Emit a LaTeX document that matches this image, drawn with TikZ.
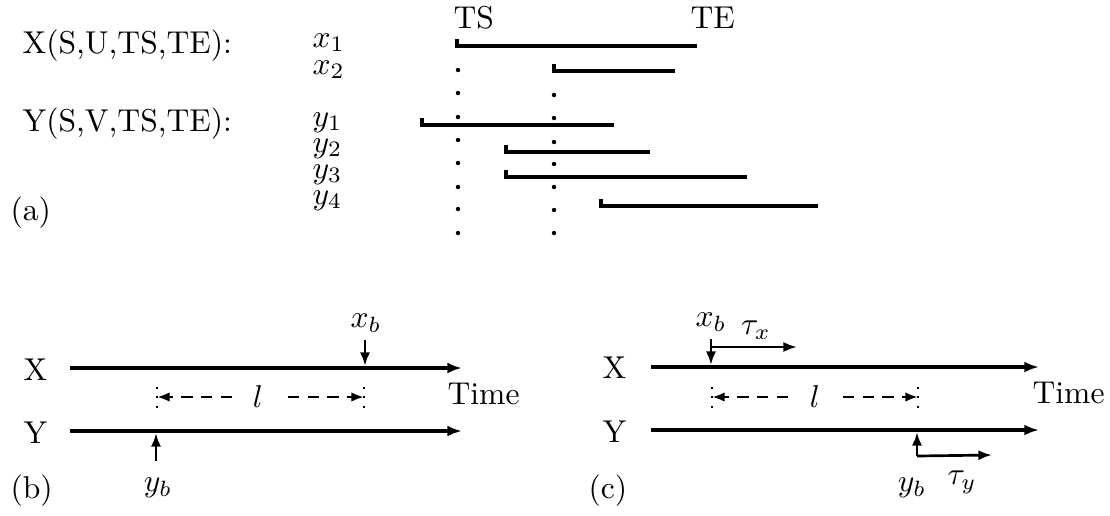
\documentclass[tikz,border=0pt]{standalone}
\usetikzlibrary{arrows.meta}
\begin{document}
\begin{tikzpicture}[x=0.3165pt,y=-0.3165pt,
  lbl/.style={inner sep=0pt,anchor=base west},
  ctr/.style={inner sep=0pt},
  seg/.style={line width=1.05pt},
  axis/.style={line width=1.05pt,-{Latex[length=4.6pt,width=3.4pt]}},
  ptr/.style={line width=0.85pt,-{Latex[length=4.3pt,width=3.2pt]}},
  dl/.style={line width=0.9pt,dash pattern=on 3.6pt off 2.6pt,-{Latex[length=4pt,width=3pt]}},
  tk/.style={line width=0.6pt,dash pattern=on 0.6pt off 2.4pt},
  dotc/.style={fill,circle,inner sep=0pt,minimum size=1.4pt}
]
\useasboundingbox (0,0) rectangle (1110,515);

% ---------------- panel (a)
\node[lbl] (TS) at (453,28) {TS};
\node[lbl] (TE) at (690,28) {TE};
\node[lbl] (Xrel) at (22,53) {X(S,U,TS,TE):};
\node[lbl] (Yrel) at (22,131) {Y(S,V,TS,TE):};
\node[lbl] (x1) at (312,47) {$x_1$};
\node[lbl] (x2) at (312,74) {$x_2$};
\node[lbl] (y1) at (312,126) {$y_1$};
\node[lbl] (y2) at (312,152) {$y_2$};
\node[lbl] (y3) at (312,178) {$y_3$};
\node[lbl] (y4) at (312,204) {$y_4$};
\node[lbl] (pa) at (10,220) {(a)};

\draw[seg] (457,39) -- (457,46) -- (697,46);
\draw[seg] (554,64) -- (554,71) -- (675,71);
\draw[seg] (422,118) -- (422,125) -- (614,125);
\draw[seg] (506,145) -- (506,152) -- (650,152);
\draw[seg] (506,170) -- (506,177) -- (747,177);
\draw[seg] (601,199) -- (601,206) -- (818,206);

\foreach \yy in {70,93,117,140,163,187,209,233}
  \node[dotc] at (458,\yy) {};
\foreach \yy in {95,118,142,164,187,210,233}
  \node[dotc] at (554,\yy) {};

% ---------------- panel (b)
\node[lbl] (bX) at (23,380) {X};
\node[lbl] (bY) at (23,443) {Y};
\node[lbl] (bTime) at (447,404) {Time};
\node[lbl] (pb) at (10,498) {(b)};
\coordinate (bxs) at (70,368);
\coordinate (bxe) at (462,368);
\coordinate (bys) at (70,431);
\coordinate (bye) at (462,431);
\draw[axis] (bxs) -- (bxe);
\draw[axis] (bys) -- (bye);

\node[ctr] (bxb) at (366,323) {$x_b$};
\coordinate (bxa) at (365,340);
\coordinate (bxt) at (365,366);
\draw[ptr] (bxa) -- (bxt);

\node[ctr] (byb) at (158,488) {$y_b$};
\coordinate (bya) at (156,461);
\coordinate (byt) at (156,433);
\draw[ptr] (bya) -- (byt);

\coordinate (btl1) at (157,387); \coordinate (btl2) at (157,411);
\coordinate (btr1) at (364,387); \coordinate (btr2) at (364,411);
\draw[tk] (btl1) -- (btl2);
\draw[tk] (btr1) -- (btr2);
\node[ctr] (bl) at (258,397) {$l$};
\coordinate (blL) at (232,397);
\coordinate (blR) at (288,397);
\coordinate (blT) at (157,397);
\coordinate (brT) at (364,397);
\draw[dl] (blL) -- (blT);
\draw[dl] (blR) -- (brT);

% ---------------- panel (c)
\node[lbl] (cX) at (602,378) {X};
\node[lbl] (cY) at (602,442) {Y};
\node[lbl] (cTime) at (1032,403) {Time};
\node[lbl] (pc) at (588,498) {(c)};
\coordinate (cxs) at (651,367);
\coordinate (cxe) at (1039,367);
\coordinate (cys) at (651,430);
\coordinate (cye) at (1039,430);
\draw[axis] (cxs) -- (cxe);
\draw[axis] (cys) -- (cye);

\node[ctr] (cxb) at (711,322) {$x_b$};
\coordinate (cxa) at (711,339);
\coordinate (cxt) at (711,365);
\draw[ptr] (cxa) -- (cxt);
\coordinate (ctx) at (797,347);
\draw[ptr] (cxa |- ctx) -- (ctx);
\node[ctr] (ctaux) at (756,330) {$\tau_x$};

\node[ctr] (cyb) at (912,488) {$y_b$};
\coordinate (cya) at (917,456);
\coordinate (cyt) at (917,432);
\draw[ptr] (cya) -- (cyt);
\coordinate (cty) at (992,455);
\draw[ptr] (cya) -- (cty);
\node[ctr] (ctauy) at (962,482) {$\tau_y$};

\coordinate (ctl1) at (712,387); \coordinate (ctl2) at (712,411);
\coordinate (ctr1) at (918,387); \coordinate (ctr2) at (918,411);
\draw[tk] (ctl1) -- (ctl2);
\draw[tk] (ctr1) -- (ctr2);
\node[ctr] (cl) at (815,397) {$l$};
\coordinate (clL) at (788,397);
\coordinate (clR) at (843,397);
\coordinate (clT) at (712,397);
\coordinate (crT) at (918,397);
\draw[dl] (clL) -- (clT);
\draw[dl] (clR) -- (crT);
\end{tikzpicture}
\end{document}
